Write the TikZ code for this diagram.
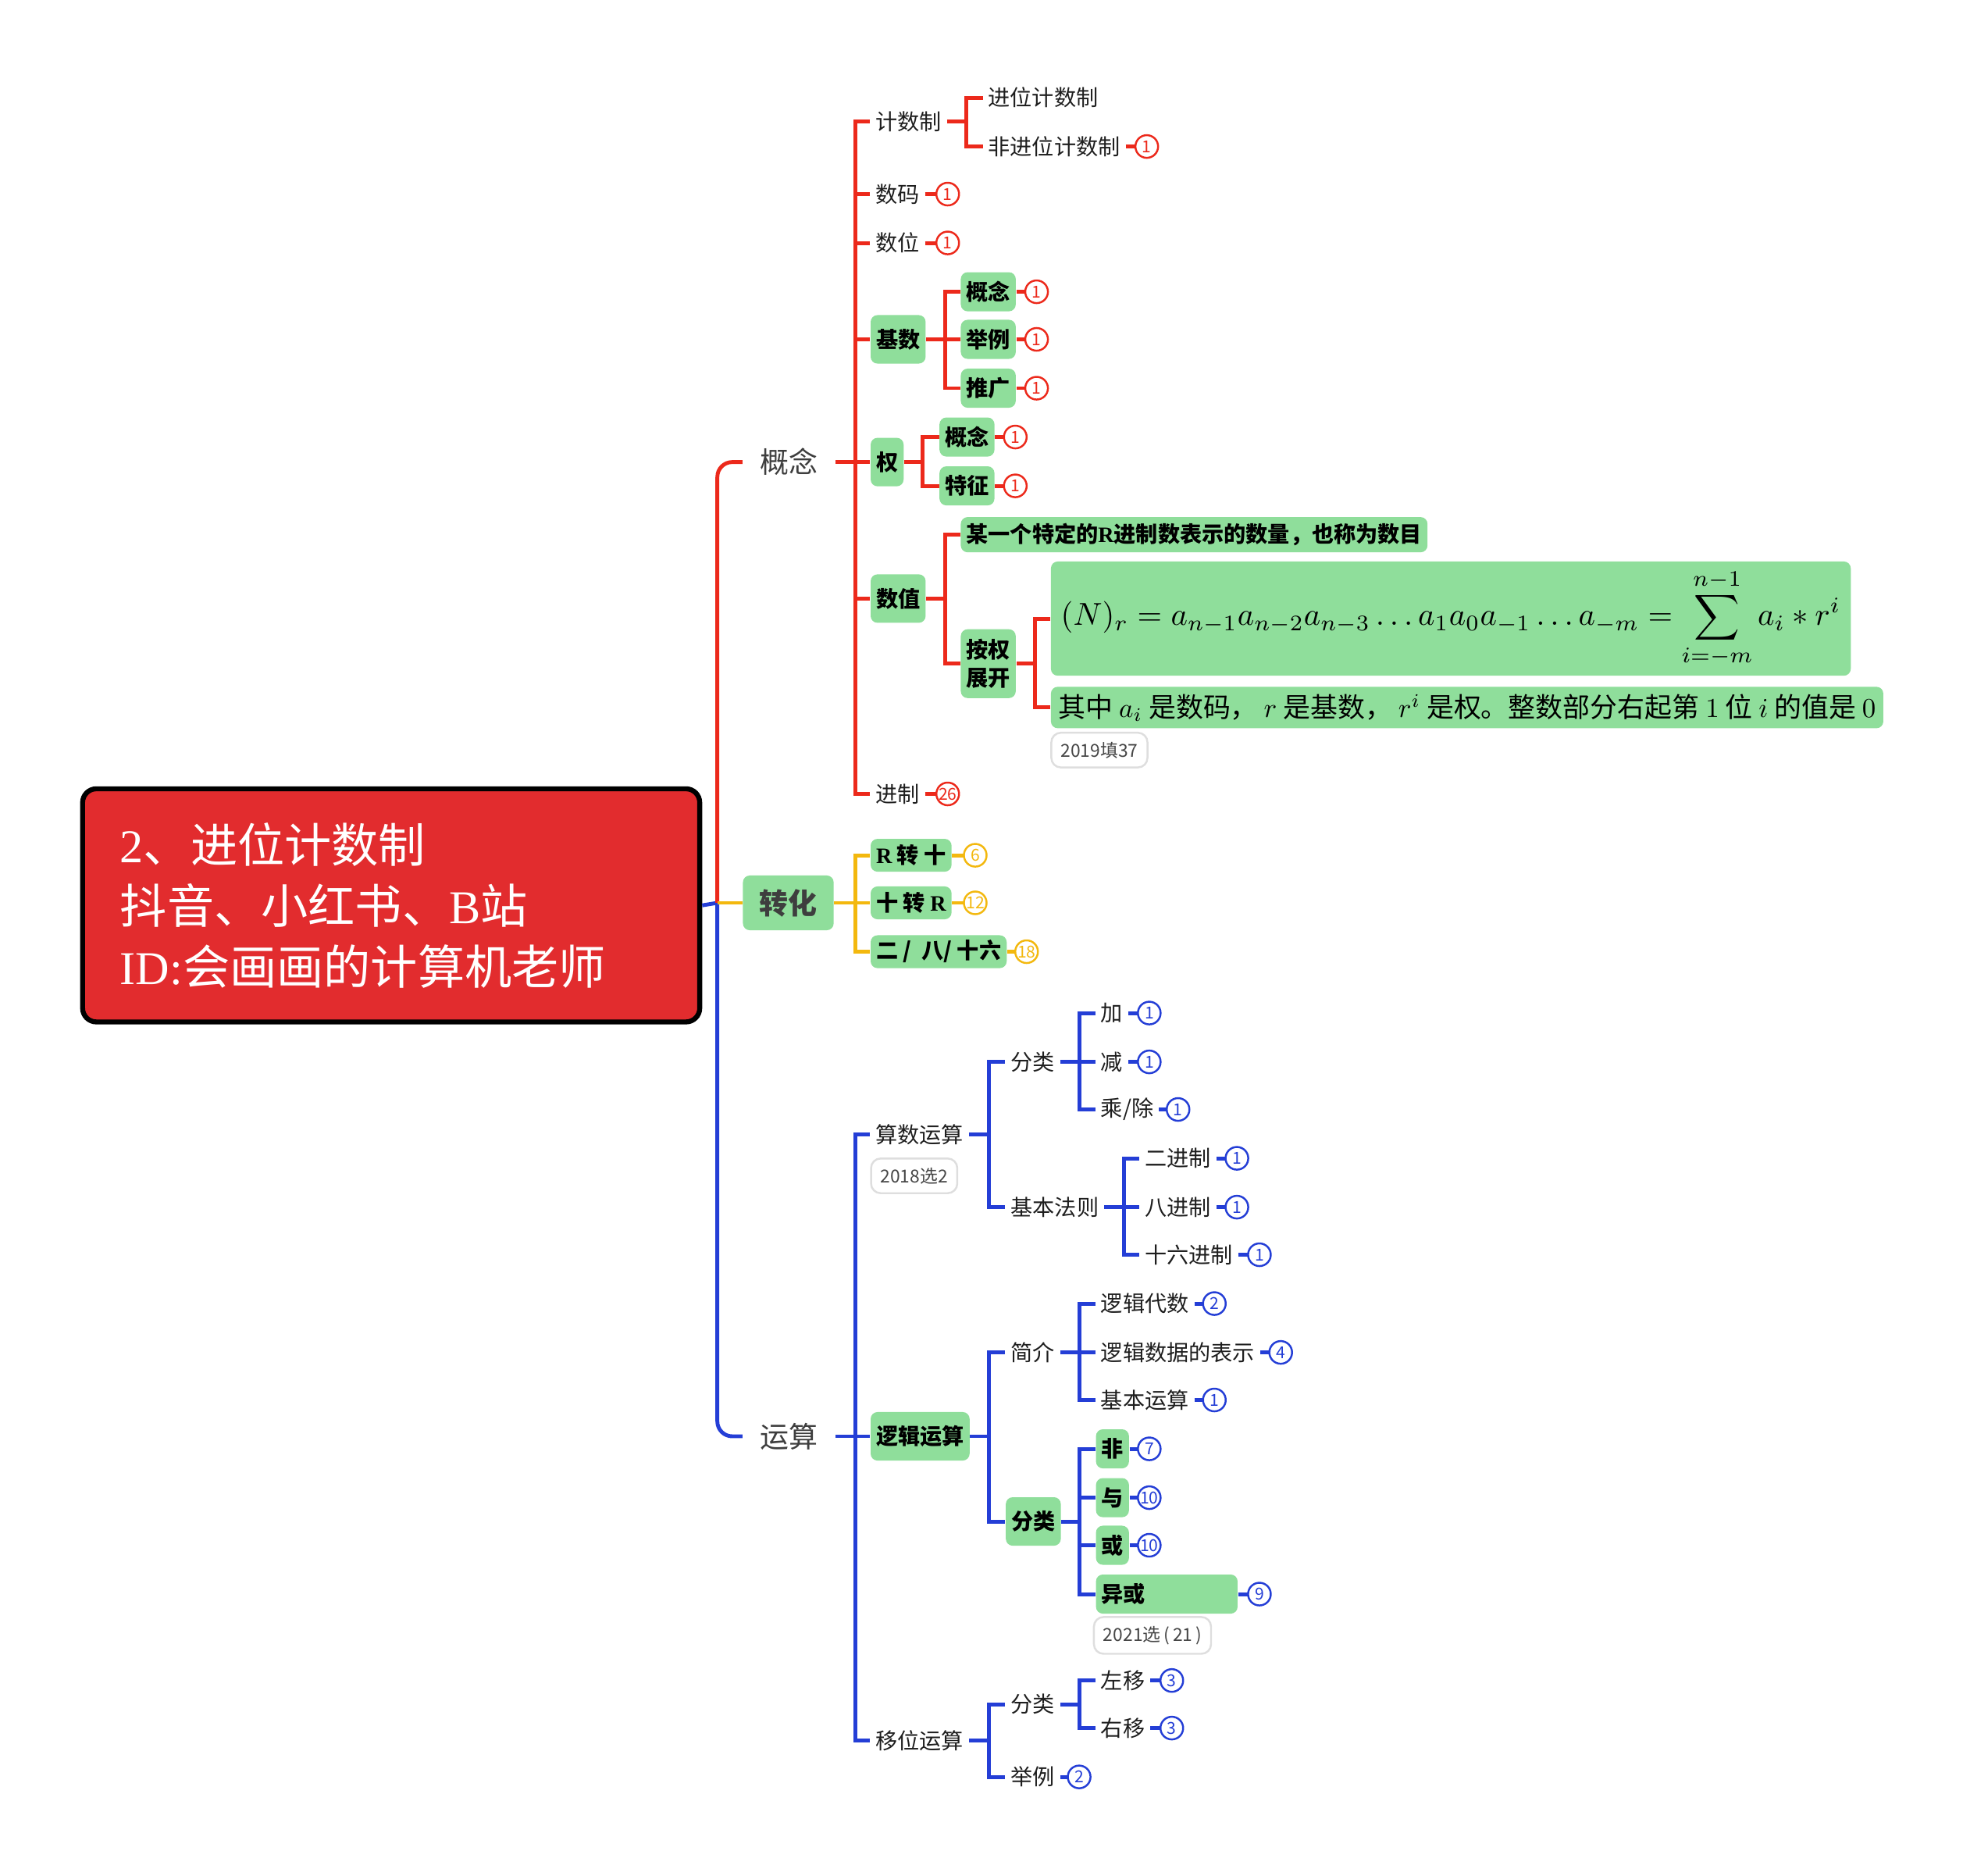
\documentclass[tikz,border=0pt]{standalone}
\usepackage[no-math]{fontspec}
\setmainfont{Noto Sans CJK SC}
\newfontfamily\lserif{Liberation Serif}
\usepackage{amsmath}
\usepackage{graphicx}
\usepackage{xcolor}

\definecolor{lred}{RGB}{236,41,27}
\definecolor{lblue}{RGB}{36,62,214}
\definecolor{lorange}{RGB}{243,184,14}
\definecolor{boxgreen}{RGB}{143,222,155}
\definecolor{rootred}{RGB}{226,44,46}
\definecolor{leaftxt}{RGB}{30,30,30}
\definecolor{toptxt}{RGB}{62,62,62}
\definecolor{tagline}{RGB}{222,222,222}
\definecolor{tagtxt}{RGB}{70,70,70}

\tikzset{
  lf/.style={anchor=west, inner xsep=1.8pt, inner ysep=1pt, text=leaftxt, font=\fontsize{8}{10}\selectfont},
  topl/.style={anchor=west, inner xsep=6.3pt, text=toptxt, font=\fontsize{10.5}{12}\selectfont},
  gb/.style={anchor=west, fill=boxgreen, rounded corners=2.5pt, inner xsep=2pt, inner ysep=1pt, minimum height=0.5cm, text=black, font=\bfseries\fontsize{8}{10}\selectfont},
  gbbig/.style={minimum height=0.62cm},
  gbshort/.style={minimum height=0.42cm},
  badge/.style={circle, draw=#1, text=#1, fill=white, line width=0.7pt, inner sep=0pt, minimum size=0.29cm, font=\fontsize{6}{6.5}\selectfont},
  tagbox/.style={anchor=west, draw=tagline, fill=white, rounded corners=3.5pt, line width=0.7pt, inner xsep=0.12cm, minimum height=0.37cm, text=tagtxt, font=\fontsize{6.5}{8}\selectfont},
  rl/.style={draw=lred, line width=1.4pt},
  bl/.style={draw=lblue, line width=1.4pt},
  ol/.style={draw=lorange, line width=1.4pt},
  rootbox/.style={anchor=west, draw=black, line width=1.8pt, fill=rootred, rounded corners=5pt, text=white, minimum height=2.98cm, text width=6.93cm, inner xsep=0.48cm, align=left, font=\fontsize{17.1}{22.2}\selectfont}
}

\begin{document}
\begin{tikzpicture}[x=0.016cm, y=-0.016cm]
  \useasboundingbox (0,0) rectangle (1568,1498);

  % root and main trunk
  \node[rootbox] (root) at (64,723) {{\lserif 2}、进位计数制\\抖音、小红书、{\lserif B}站\\{\lserif ID:}会画画的计算机老师};
  \node[topl] (gn) at (593,369) {概念};
  \node[gb, inner xsep=6pt, minimum height=0.7cm, text=toptxt, font=\bfseries\fontsize{10.5}{12}\selectfont] (zh) at (593,721) {转化};
  \node[topl] (ys) at (593,1147) {运算};
  \coordinate (hub) at (573,721);
  \draw[bl] (root.east) -- (hub);
  \draw[rl, rounded corners=0.19cm] (hub) |- (gn.west);
  \draw[bl, rounded corners=0.19cm] (hub) |- (ys.west);
  \draw[ol] (hub) -- (zh.west);

  % 概念
  \node[lf] (jsz) at (695,97) {计数制};
  \node[lf] (jw) at (785,78) {进位计数制};
  \node[lf] (fjw) at (785,117) {非进位计数制};
  \node[lf] (sm) at (695,155) {数码};
  \node[lf] (sw) at (695,194) {数位};
  \node[gb, gbbig] (js) at (695,271) {基数};
  \node[gb] (jsa) at (767,233) {概念};
  \node[gb] (jsb) at (767,271) {举例};
  \node[gb] (jsc) at (767,310) {推广};
  \node[gb, gbbig] (q) at (695,369) {权};
  \node[gb] (qa) at (750,349) {概念};
  \node[gb] (qb) at (750,388) {特征};
  \node[gb, gbbig] (sz) at (695,478) {数值};
  \node[gb, minimum height=0.45cm] (szd) at (767,427) {某一个特定的{\lserif\bfseries R}进制数表示的数量，也称为数目};
  \node[gb, minimum height=0.88cm, align=center] (aq) at (767,530) {按权\\展开};
  \node[gb, font=\normalfont, inner xsep=0.128cm, minimum height=1.46cm] (fm) at (839,494)
    {\resizebox{9.97cm}{!}{$\displaystyle (N)_r = a_{n-1}a_{n-2}a_{n-3}\ldots a_1a_0a_{-1}\ldots a_{-m} = \sum_{i=-m}^{n-1} a_i * r^i$}};
  \node[gb, font=\normalfont, inner xsep=0.096cm, minimum height=0.53cm] (fs) at (839,565)
    {\resizebox{10.45cm}{!}{其中 $a_i$ 是数码， $r$ 是基数， $r^i$ 是权。整数部分右起第 $1$ 位 $i$ 的值是 $0$}};
  \node[tagbox] (t19) at (839,599) {2019填37};
  \node[lf] (jz) at (695,634) {进制};

  \coordinate (gn-b) at (683,369);
  \coordinate (jsz-b) at (772,97);
  \coordinate (js-b) at (755,271);
  \coordinate (q-b) at (737,369);
  \coordinate (sz-b) at (755,478);
  \coordinate (aq-b) at (827,530);
  \draw[rl] (gn.east) -- (gn-b);
  \foreach \c in {jsz,sm,sw,js,q,sz,jz} \draw[rl] (gn-b) |- (\c.west);
  \draw[rl] (jsz.east) -- (jsz-b);
  \foreach \c in {jw,fjw} \draw[rl] (jsz-b) |- (\c.west);
  \draw[rl] (js.east) -- (js-b);
  \foreach \c in {jsa,jsb,jsc} \draw[rl] (js-b) |- (\c.west);
  \draw[rl] (q.east) -- (q-b);
  \foreach \c in {qa,qb} \draw[rl] (q-b) |- (\c.west);
  \draw[rl] (sz.east) -- (sz-b);
  \foreach \c in {szd,aq} \draw[rl] (sz-b) |- (\c.west);
  \draw[rl] (aq.east) -- (aq-b);
  \foreach \c in {fm,fs} \draw[rl] (aq-b) |- (\c.west);

  \foreach \a/\x/\y/\v in {fjw/916/117/1, sm/757/155/1, sw/757/194/1, jsa/828/233/1, jsb/828/271/1,
      jsc/828/310/1, qa/811/349/1, qb/811/388/1, jz/757/634/26} {
    \draw[rl] (\a.east) -- (\x,\y);
    \node[badge=lred] (\a-n) at (\x,\y) {\v};
  }

  % 转化
  \node[gb, gbshort] (rs) at (695,683) {{\lserif\bfseries R} 转 十};
  \node[gb, gbshort] (sr) at (695,721) {十 转 {\lserif\bfseries R}};
  \node[gb, gbshort] (ebs) at (695,760) {二 / \ 八/ 十六};
  \coordinate (zh-b) at (683,721);
  \draw[ol] (zh.east) -- (zh-b);
  \foreach \c in {rs,sr,ebs} \draw[ol] (zh-b) |- (\c.west);
  \foreach \a/\x/\y/\v in {rs/779/683/6, sr/779/721/12, ebs/820/760/18} {
    \draw[ol] (\a.east) -- (\x,\y);
    \node[badge=lorange] (\a-n) at (\x,\y) {\v};
  }

  % 运算
  \node[lf] (ss) at (695,906) {算数运算};
  \node[tagbox] (t18) at (695,939) {2018选2};
  \node[lf] (fl1) at (803,848) {分类};
  \node[lf] (jbfz) at (803,964) {基本法则};
  \node[lf] (jia) at (875,809) {加};
  \node[lf] (jian) at (875,848) {减};
  \node[lf] (cc) at (875,886) {乘/除};
  \node[lf] (ej) at (910,925) {二进制};
  \node[lf] (bj) at (910,964) {八进制};
  \node[lf] (sl) at (910,1002) {十六进制};
  \node[gb, gbbig] (lj) at (695,1147) {逻辑运算};
  \node[lf] (jj) at (803,1080) {简介};
  \node[lf] (ljds) at (875,1041) {逻辑代数};
  \node[lf] (ljsj) at (875,1080) {逻辑数据的表示};
  \node[lf] (jbys) at (875,1118) {基本运算};
  \node[gb, gbbig] (fl2) at (803,1215) {分类};
  \node[gb] (fei) at (875,1157) {非};
  \node[gb] (yu) at (875,1196) {与};
  \node[gb] (huo) at (875,1234) {或};
  \node[gb, text width=1.67cm, align=left] (yh) at (875,1273) {异或};
  \node[tagbox] (t21) at (873,1306) {2021选\,(\,21\,)};
  \node[lf] (yw) at (695,1390) {移位运算};
  \node[lf] (fl3) at (803,1361) {分类};
  \node[lf] (jl) at (803,1419) {举例};
  \node[lf] (zy) at (875,1342) {左移};
  \node[lf] (yy) at (875,1380) {右移};

  \coordinate (ys-b) at (683,1147);
  \coordinate (ss-b) at (790,906);
  \coordinate (fl1-b) at (862,848);
  \coordinate (jbfz-b) at (898,964);
  \coordinate (lj-b) at (790,1147);
  \coordinate (jj-b) at (862,1080);
  \coordinate (fl2-b) at (862,1215);
  \coordinate (yw-b) at (790,1390);
  \coordinate (fl3-b) at (862,1361);
  \draw[bl] (ys.east) -- (ys-b);
  \foreach \c in {ss,lj,yw} \draw[bl] (ys-b) |- (\c.west);
  \draw[bl] (ss.east) -- (ss-b);
  \foreach \c in {fl1,jbfz} \draw[bl] (ss-b) |- (\c.west);
  \draw[bl] (fl1.east) -- (fl1-b);
  \foreach \c in {jia,jian,cc} \draw[bl] (fl1-b) |- (\c.west);
  \draw[bl] (jbfz.east) -- (jbfz-b);
  \foreach \c in {ej,bj,sl} \draw[bl] (jbfz-b) |- (\c.west);
  \draw[bl] (lj.east) -- (lj-b);
  \foreach \c in {jj,fl2} \draw[bl] (lj-b) |- (\c.west);
  \draw[bl] (jj.east) -- (jj-b);
  \foreach \c in {ljds,ljsj,jbys} \draw[bl] (jj-b) |- (\c.west);
  \draw[bl] (fl2.east) -- (fl2-b);
  \foreach \c in {fei,yu,huo,yh} \draw[bl] (fl2-b) |- (\c.west);
  \draw[bl] (yw.east) -- (yw-b);
  \foreach \c in {fl3,jl} \draw[bl] (yw-b) |- (\c.west);
  \draw[bl] (fl3.east) -- (fl3-b);
  \foreach \c in {zy,yy} \draw[bl] (fl3-b) |- (\c.west);

  \foreach \a/\x/\y/\v in {jia/918/809/1, jian/918/848/1, cc/941/886/1, ej/988/925/1, bj/988/964/1,
      sl/1006/1002/1, ljds/970/1041/2, ljsj/1023/1080/4, jbys/970/1118/1, fei/918/1157/7,
      yu/918/1196/10, huo/918/1234/10, yh/1006/1273/9, zy/936/1342/3, yy/936/1380/3, jl/862/1419/2} {
    \draw[bl] (\a.east) -- (\x,\y);
    \node[badge=lblue] (\a-n) at (\x,\y) {\v};
  }
\end{tikzpicture}
\end{document}
